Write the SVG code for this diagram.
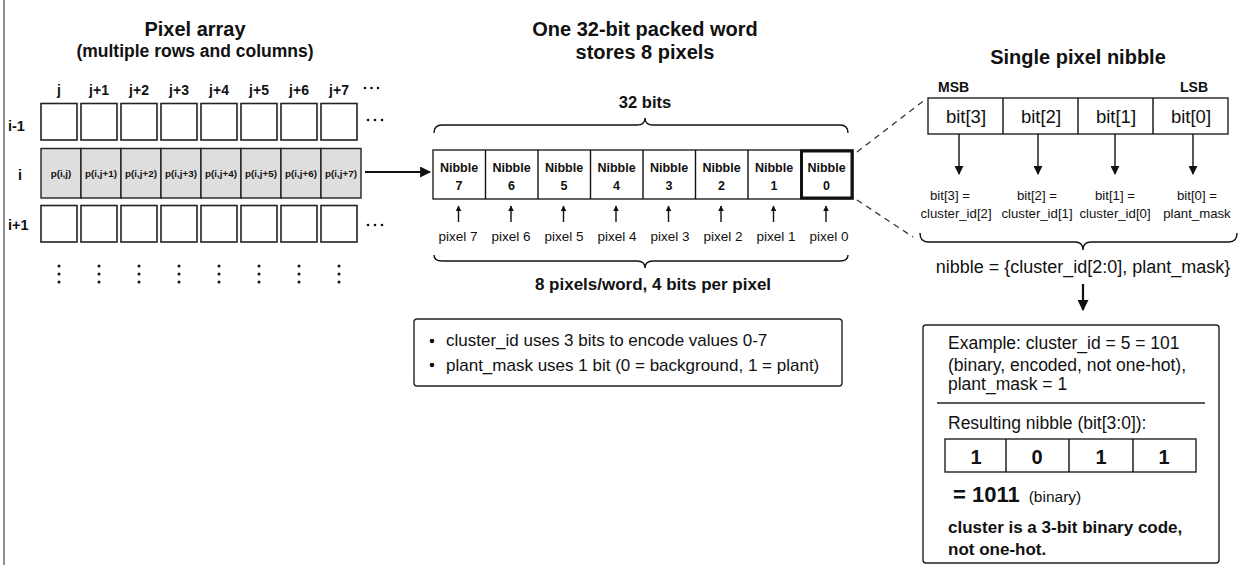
<svg xmlns="http://www.w3.org/2000/svg" width="1239" height="565" viewBox="0 0 1239 565">
<style>
text{font-family:"Liberation Sans",Arial,sans-serif;fill:#111}
.t{font-weight:bold;font-size:20px;text-anchor:middle}
.m{text-anchor:middle}
.cl{font-size:14px;font-weight:bold;text-anchor:middle}
.nb{font-size:12.5px;font-weight:bold;text-anchor:middle}
.px{font-size:13.5px;text-anchor:middle}
.pc{font-size:9.8px;font-weight:bold;text-anchor:middle}
.bl{font-size:13.2px;text-anchor:middle}
.cell{fill:#fff;stroke:#222;stroke-width:1.6}
.gcell{fill:#dedede;stroke:#222;stroke-width:1.4}
.ln{stroke:#111;stroke-width:1.4;fill:none}
.dash{stroke:#333;stroke-width:1.3;fill:none;stroke-dasharray:6 5}
.dot{fill:#111}
</style>
<defs>
<marker id="ah" viewBox="0 0 10 10" refX="9" refY="5" markerWidth="6" markerHeight="6" orient="auto" markerUnits="userSpaceOnUse"><path d="M0,0 L10,5 L0,10 z" fill="#111"/></marker>
<marker id="ahL" viewBox="0 0 10 10" refX="9" refY="5" markerWidth="11" markerHeight="11" orient="auto" markerUnits="userSpaceOnUse"><path d="M0,0 L10,5 L0,10 z" fill="#111"/></marker>
<marker id="ahM" viewBox="0 0 10 10" refX="9" refY="5" markerWidth="9" markerHeight="9" orient="auto" markerUnits="userSpaceOnUse"><path d="M0,0 L10,5 L0,10 z" fill="#111"/></marker>
</defs>
<rect width="1239" height="565" fill="#fff"/>
<line x1="4" y1="0" x2="4" y2="565" stroke="#444" stroke-width="1.2"/>

<g id="pixel-array">
<text class="t" x="195" y="36">Pixel array</text>
<text class="m" x="195" y="57" font-size="17.5" font-weight="bold">(multiple rows and columns)</text>
<text class="cl" x="59" y="95">j</text>
<text class="cl" x="99" y="95">j+1</text>
<text class="cl" x="139" y="95">j+2</text>
<text class="cl" x="179" y="95">j+3</text>
<text class="cl" x="219" y="95">j+4</text>
<text class="cl" x="259" y="95">j+5</text>
<text class="cl" x="299" y="95">j+6</text>
<text class="cl" x="339" y="95">j+7</text>
<text x="8" y="131" font-size="14.5" font-weight="bold">i-1</text>
<text x="18" y="180" font-size="14.5" font-weight="bold">i</text>
<text x="8" y="230" font-size="14.5" font-weight="bold">i+1</text>
<g class="dot">
<circle cx="365" cy="88" r="1.3"/><circle cx="371.5" cy="88" r="1.3"/><circle cx="378" cy="88" r="1.3"/>
<circle cx="368" cy="120" r="1.3"/><circle cx="375" cy="120" r="1.3"/><circle cx="382" cy="120" r="1.3"/>
<circle cx="368" cy="225" r="1.3"/><circle cx="375" cy="225" r="1.3"/><circle cx="382" cy="225" r="1.3"/>
</g>
<g id="row-im1">
<rect class="cell" x="41" y="103.5" width="36" height="36.5"/>
<rect class="cell" x="81" y="103.5" width="36" height="36.5"/>
<rect class="cell" x="121" y="103.5" width="36" height="36.5"/>
<rect class="cell" x="161" y="103.5" width="36" height="36.5"/>
<rect class="cell" x="201" y="103.5" width="36" height="36.5"/>
<rect class="cell" x="241" y="103.5" width="36" height="36.5"/>
<rect class="cell" x="281" y="103.5" width="36" height="36.5"/>
<rect class="cell" x="321" y="103.5" width="36" height="36.5"/>
</g>
<g id="row-i">
<rect class="gcell" x="41" y="148.5" width="40" height="49.5"/>
<rect class="gcell" x="81" y="148.5" width="40" height="49.5"/>
<rect class="gcell" x="121" y="148.5" width="40" height="49.5"/>
<rect class="gcell" x="161" y="148.5" width="40" height="49.5"/>
<rect class="gcell" x="201" y="148.5" width="40" height="49.5"/>
<rect class="gcell" x="241" y="148.5" width="40" height="49.5"/>
<rect class="gcell" x="281" y="148.5" width="40" height="49.5"/>
<rect class="gcell" x="321" y="148.5" width="40" height="49.5"/>
<text class="pc" x="61" y="177">p(i,j)</text>
<text class="pc" x="101" y="177">p(i,j+1)</text>
<text class="pc" x="141" y="177">p(i,j+2)</text>
<text class="pc" x="181" y="177">p(i,j+3)</text>
<text class="pc" x="221" y="177">p(i,j+4)</text>
<text class="pc" x="261" y="177">p(i,j+5)</text>
<text class="pc" x="301" y="177">p(i,j+6)</text>
<text class="pc" x="341" y="177">p(i,j+7)</text>
</g>
<g id="row-ip1">
<rect class="cell" x="41" y="205.5" width="36" height="36.5"/>
<rect class="cell" x="81" y="205.5" width="36" height="36.5"/>
<rect class="cell" x="121" y="205.5" width="36" height="36.5"/>
<rect class="cell" x="161" y="205.5" width="36" height="36.5"/>
<rect class="cell" x="201" y="205.5" width="36" height="36.5"/>
<rect class="cell" x="241" y="205.5" width="36" height="36.5"/>
<rect class="cell" x="281" y="205.5" width="36" height="36.5"/>
<rect class="cell" x="321" y="205.5" width="36" height="36.5"/>
</g>
<g class="dot">
<circle cx="59" cy="266" r="1.5"/><circle cx="59" cy="274" r="1.5"/><circle cx="59" cy="282" r="1.5"/>
<circle cx="99" cy="266" r="1.5"/><circle cx="99" cy="274" r="1.5"/><circle cx="99" cy="282" r="1.5"/>
<circle cx="139" cy="266" r="1.5"/><circle cx="139" cy="274" r="1.5"/><circle cx="139" cy="282" r="1.5"/>
<circle cx="179" cy="266" r="1.5"/><circle cx="179" cy="274" r="1.5"/><circle cx="179" cy="282" r="1.5"/>
<circle cx="219" cy="266" r="1.5"/><circle cx="219" cy="274" r="1.5"/><circle cx="219" cy="282" r="1.5"/>
<circle cx="259" cy="266" r="1.5"/><circle cx="259" cy="274" r="1.5"/><circle cx="259" cy="282" r="1.5"/>
<circle cx="299" cy="266" r="1.5"/><circle cx="299" cy="274" r="1.5"/><circle cx="299" cy="282" r="1.5"/>
<circle cx="339" cy="266" r="1.5"/><circle cx="339" cy="274" r="1.5"/><circle cx="339" cy="282" r="1.5"/>
</g>
</g>

<g id="packed-word">
<text class="t" x="645" y="36">One 32-bit packed word</text>
<text class="t" x="645" y="59">stores 8 pixels</text>
<text class="m" x="645" y="108" font-size="16.5" font-weight="bold">32 bits</text>
<path class="ln" d="M434,133 Q434,125 442,125 L637,125 Q645,125 645,118 Q645,125 653,125 L840,125 Q848,125 848,133"/>
<rect x="433" y="150" width="420" height="49" fill="#fff" stroke="#222" stroke-width="1.4"/>
<g class="ln">
<line x1="485.5" y1="150" x2="485.5" y2="199"/><line x1="538" y1="150" x2="538" y2="199"/>
<line x1="590.5" y1="150" x2="590.5" y2="199"/><line x1="643" y1="150" x2="643" y2="199"/>
<line x1="695.5" y1="150" x2="695.5" y2="199"/><line x1="748" y1="150" x2="748" y2="199"/>
</g>
<rect x="801.5" y="151" width="50.5" height="47" fill="none" stroke="#111" stroke-width="3"/>
<text class="nb" x="459" y="172">Nibble</text><text class="nb" x="459" y="190">7</text>
<text class="nb" x="511.5" y="172">Nibble</text><text class="nb" x="511.5" y="190">6</text>
<text class="nb" x="564" y="172">Nibble</text><text class="nb" x="564" y="190">5</text>
<text class="nb" x="616.5" y="172">Nibble</text><text class="nb" x="616.5" y="190">4</text>
<text class="nb" x="669" y="172">Nibble</text><text class="nb" x="669" y="190">3</text>
<text class="nb" x="721.5" y="172">Nibble</text><text class="nb" x="721.5" y="190">2</text>
<text class="nb" x="774" y="172">Nibble</text><text class="nb" x="774" y="190">1</text>
<text class="nb" x="826.5" y="172">Nibble</text><text class="nb" x="826.5" y="190">0</text>
<text class="px" x="458" y="241">pixel 7</text>
<text class="px" x="511" y="241">pixel 6</text>
<text class="px" x="564" y="241">pixel 5</text>
<text class="px" x="617" y="241">pixel 4</text>
<text class="px" x="670" y="241">pixel 3</text>
<text class="px" x="723" y="241">pixel 2</text>
<text class="px" x="776" y="241">pixel 1</text>
<text class="px" x="829" y="241">pixel 0</text>
<path class="ln" d="M434,255 Q434,261 442,261 L637,261 Q645,261 645,268 Q645,261 653,261 L840,261 Q848,261 848,255"/>
<text class="m" x="653" y="290" font-size="17" font-weight="bold">8 pixels/word, 4 bits per pixel</text>
</g>

<g id="note-box">
<rect x="414" y="319" width="428" height="67" rx="3" fill="#fff" stroke="#222" stroke-width="1.4"/>
<circle cx="432" cy="341" r="2.3" class="dot"/>
<circle cx="432" cy="365" r="2.3" class="dot"/>
<text x="446" y="346" font-size="17">cluster_id uses 3 bits to encode values 0-7</text>
<text x="446" y="371" font-size="17">plant_mask uses 1 bit (0 = background, 1 = plant)</text>
</g>

<g id="single-nibble">
<text class="t" x="1078" y="64" font-size="19.5">Single pixel nibble</text>
<text x="938" y="92" font-size="14" font-weight="bold">MSB</text>
<text x="1180" y="92" font-size="14" font-weight="bold">LSB</text>
<rect x="928" y="98" width="300" height="36" fill="#fff" stroke="#222" stroke-width="1.4"/>
<g class="ln"><line x1="1003" y1="98" x2="1003" y2="134"/><line x1="1078" y1="98" x2="1078" y2="134"/><line x1="1153" y1="98" x2="1153" y2="134"/></g>
<text class="m" x="966" y="123" font-size="18.5">bit[3]</text>
<text class="m" x="1041" y="123" font-size="18.5">bit[2]</text>
<text class="m" x="1116" y="123" font-size="18.5">bit[1]</text>
<text class="m" x="1191" y="123" font-size="18.5">bit[0]</text>
<text class="bl" x="950" y="200">bit[3] =</text><text class="bl" x="956" y="218">cluster_id[2]</text>
<text class="bl" x="1037" y="200">bit[2] =</text><text class="bl" x="1037" y="218">cluster_id[1]</text>
<text class="bl" x="1115" y="200">bit[1] =</text><text class="bl" x="1115" y="218">cluster_id[0]</text>
<text class="bl" x="1197" y="200">bit[0] =</text><text class="bl" x="1197" y="218">plant_mask</text>
<path class="ln" d="M920,233 Q920,242 928,242 L1075,242 Q1083,242 1083,250 Q1083,242 1091,242 L1229,242 Q1237,242 1237,233"/>
<text class="m" x="1083" y="273" font-size="18">nibble = {cluster_id[2:0], plant_mask}</text>
</g>

<g id="example-box">
<rect x="923" y="325" width="296" height="238" rx="3" fill="#fff" stroke="#222" stroke-width="1.4"/>
<text x="948" y="349" font-size="17.5">Example: cluster_id = 5 = 101</text>
<text x="948" y="371" font-size="17.5">(binary, encoded, not one-hot),</text>
<text x="948" y="390" font-size="17.5">plant_mask = 1</text>
<line x1="937" y1="403" x2="1205" y2="403" stroke="#222" stroke-width="1.3"/>
<text x="948" y="429" font-size="17.5">Resulting nibble (bit[3:0]):</text>
<rect x="945" y="439" width="251" height="33" fill="#fff" stroke="#222" stroke-width="1.4"/>
<g class="ln"><line x1="1006" y1="439" x2="1006" y2="472"/><line x1="1069" y1="439" x2="1069" y2="472"/><line x1="1133" y1="439" x2="1133" y2="472"/></g>
<text class="m" x="976" y="464" font-size="20" font-weight="bold">1</text>
<text class="m" x="1037" y="464" font-size="20" font-weight="bold">0</text>
<text class="m" x="1101" y="464" font-size="20" font-weight="bold">1</text>
<text class="m" x="1164" y="464" font-size="20" font-weight="bold">1</text>
<text x="953" y="502"><tspan font-size="22" font-weight="bold">= 1011</tspan><tspan font-size="15.5" dx="9">(binary)</tspan></text>
<text x="948" y="533" font-size="17" font-weight="bold">cluster is a 3-bit binary code,</text>
<text x="948" y="555" font-size="17" font-weight="bold">not one-hot.</text>
</g>

<g id="connectors">
<line x1="365" y1="172" x2="430" y2="172" stroke="#111" stroke-width="2" marker-end="url(#ahL)"/>
<line x1="458.5" y1="222" x2="458.5" y2="206" class="ln" stroke-width="1.2" marker-end="url(#ah)"/>
<line x1="511" y1="222" x2="511" y2="206" class="ln" stroke-width="1.2" marker-end="url(#ah)"/>
<line x1="563.5" y1="222" x2="563.5" y2="206" class="ln" stroke-width="1.2" marker-end="url(#ah)"/>
<line x1="616" y1="222" x2="616" y2="206" class="ln" stroke-width="1.2" marker-end="url(#ah)"/>
<line x1="668.5" y1="222" x2="668.5" y2="206" class="ln" stroke-width="1.2" marker-end="url(#ah)"/>
<line x1="721" y1="222" x2="721" y2="206" class="ln" stroke-width="1.2" marker-end="url(#ah)"/>
<line x1="773.5" y1="222" x2="773.5" y2="206" class="ln" stroke-width="1.2" marker-end="url(#ah)"/>
<line x1="826" y1="222" x2="826" y2="206" class="ln" stroke-width="1.2" marker-end="url(#ah)"/>
<line x1="857" y1="152" x2="926" y2="99" class="dash"/>
<line x1="857" y1="200" x2="913" y2="237" class="dash"/>
<line x1="959" y1="134" x2="959" y2="174" class="ln" marker-end="url(#ahM)"/>
<line x1="1038" y1="134" x2="1038" y2="174" class="ln" marker-end="url(#ahM)"/>
<line x1="1115" y1="134" x2="1115" y2="174" class="ln" marker-end="url(#ahM)"/>
<line x1="1193" y1="134" x2="1193" y2="174" class="ln" marker-end="url(#ahM)"/>
<line x1="1083" y1="284" x2="1083" y2="310" stroke="#111" stroke-width="2.2" marker-end="url(#ahL)"/>
</g>
</svg>
